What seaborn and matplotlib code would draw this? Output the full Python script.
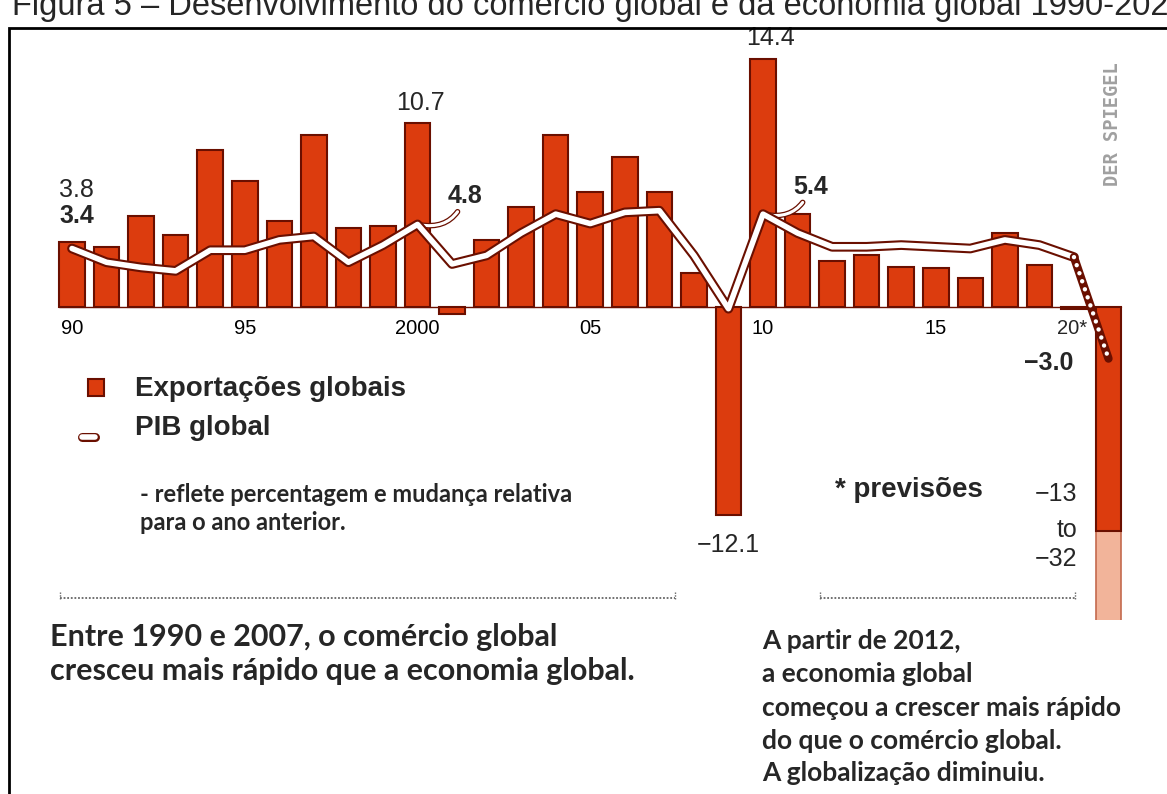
import pandas as pd
import matplotlib
matplotlib.use('Agg')
import matplotlib.pyplot as plt
import matplotlib.patheffects as pe
from matplotlib.patches import Rectangle
from matplotlib.lines import Line2D
import seaborn as sns

# data (% change on previous year)
years = list(range(1990, 2021))
exports = [3.8, 3.5, 5.3, 4.2, 9.1, 7.3, 5.0, 10.0, 4.6, 4.7,
           10.7, -0.4, 3.9, 5.8, 10.0, 6.7, 8.7, 6.7, 2.0, -12.1,
           14.4, 5.4, 2.7, 3.0, 2.35, 2.25, 1.7, 4.3, 2.45, -0.1,
           -13.0]
exports_2020_low = [-32.0]
gdp = [3.4, 2.6, 2.3, 2.1, 3.3, 3.3, 3.9, 4.1, 2.6, 3.6,
       4.8, 2.5, 3.0, 4.3, 5.4, 4.85, 5.5, 5.6, 3.0, -0.1,
       5.4, 4.3, 3.5, 3.5, 3.6, 3.5, 3.4, 3.9, 3.6, 2.9,
       -3.0]
tick_years = [1990, 1995, 2000, 2005, 2010, 2015]
tick_labels = ['90', '95', '2000', '05', '10', '15']

left_text = ['Entre 1990 e 2007, o com\u00e9rcio global',
             'cresceu mais r\u00e1pido que a economia global.']
right_text = ['A partir de 2012,', 'a economia global',
              'come\u00e7ou a crescer mais r\u00e1pido',
              'do que o com\u00e9rcio global.', 'A globaliza\u00e7\u00e3o diminuiu.']

df = pd.DataFrame({'year': years, 'exports': exports, 'gdp': gdp})

bar_color = '#dc3c0e'
edge = '#6a0f00'
light = '#f2b49a'
W, H = 1167, 794


def fx(px):
    return px / W


def fy(py):
    return 1 - py / H


sns.set_style('white')
plt.rcParams['font.family'] = ['Liberation Sans', 'DejaVu Sans']

fig = plt.figure(figsize=(11.67, 7.94), dpi=100)
ax = fig.add_axes([0, fy(620), 1, 620 / H])

# bars: light forecast range first, dark bars on top
sns.barplot(x=[2020], y=exports_2020_low, native_scale=True, width=0.74,
            color=light, saturation=1, edgecolor='#c46a4e', linewidth=1.2, ax=ax)
sns.barplot(data=df, x='year', y='exports', native_scale=True, width=0.74,
            color=bar_color, saturation=1, edgecolor=edge, linewidth=1.5, ax=ax)

ax.plot([years[0] - 0.37, years[-1] + 0.37], [0, 0], color=edge, lw=1, zorder=0.5)

# GDP line (white with dark outline), forecast dotted
outline = [pe.Stroke(linewidth=7, foreground=edge), pe.Normal()]
sns.lineplot(data=df[df.year <= 2019], x='year', y='gdp', color='white', lw=4,
             path_effects=outline, ax=ax, zorder=5)
sns.lineplot(data=df[df.year >= 2019], x='year', y='gdp', color=edge, lw=6,
             ax=ax, zorder=5)
sns.lineplot(data=df[df.year >= 2019], x='year', y='gdp', color='white', lw=3.2,
             linestyle=(0, (0.01, 1.9)), dash_capstyle='round', ax=ax, zorder=6)

ax.set_xlim(1990 - 72 / 34.55, 1990 + (W - 72) / 34.55)
ax.set_ylim(-313 / 17.2, 307 / 17.2)
ax.axis('off')

# x labels under the zero line
for yr, lbl in zip(tick_years, tick_labels):
    ax.annotate(lbl, (yr, 0), xytext=(0, -21), textcoords='offset pixels',
                ha='center', va='center', fontsize=14.5, color='black')
ax.annotate('20*', (2020, 0), xytext=(-21, -21), textcoords='offset pixels',
            ha='right', va='center', fontsize=14.5)

# value labels
big = 18
e = dict(zip(years, exports))
g = dict(zip(years, gdp))
ax.annotate('3.8', (1990 - 0.37, e[1990]), xytext=(0, 52), textcoords='offset pixels',
            ha='left', va='center', fontsize=big)
ax.annotate('3.4', (1990 - 0.37, g[1990]), xytext=(0, 33), textcoords='offset pixels',
            ha='left', va='center', fontsize=big, fontweight='bold')
ax.annotate('10.7', (2000, e[2000]), xytext=(3, 20), textcoords='offset pixels',
            ha='center', va='center', fontsize=big)
ax.annotate('14.4', (2010, e[2010]), xytext=(8, 21), textcoords='offset pixels',
            ha='center', va='center', fontsize=big)
ax.annotate('\u221212.1', (2009, e[2009]), xytext=(0, -30), textcoords='offset pixels',
            ha='center', va='center', fontsize=big)
ax.annotate('\u22123.0', (2020, g[2020]), xytext=(-35, -4), textcoords='offset pixels',
            ha='right', va='center', fontsize=big, fontweight='bold')

leader = dict(arrowstyle='-', color='white', lw=2.2, shrinkA=0, shrinkB=2,
              connectionstyle='arc3,rad=-0.45',
              path_effects=[pe.Stroke(linewidth=4, foreground=edge), pe.Normal()])
ax.annotate('4.8', (2000, g[2000]), xytext=(30, 28), textcoords='offset pixels',
            ha='left', va='center', fontsize=big, fontweight='bold', arrowprops=leader)
ax.annotate('5.4', (2010, g[2010]), xytext=(30, 27), textcoords='offset pixels',
            ha='left', va='center', fontsize=big, fontweight='bold', arrowprops=leader)

for txt, dy in [('\u221213', 187), ('to', 223), ('\u221232', 252)]:
    ax.annotate(txt, (2020, 0), xytext=(-31, -dy), textcoords='offset pixels',
                ha='right', va='center', fontsize=big)

# frame and (cropped) title strip
fig.add_artist(Rectangle((fx(9), -0.1), 1.2, fy(28) + 0.1, transform=fig.transFigure,
                         fill=False, lw=2, ec='black', zorder=10))
fig.text(fx(12), fy(15), 'Figura 5 \u2013 Desenvolvimento do com\u00e9rcio global e da economia global 1990-2020',
         ha='left', va='baseline', fontsize=23.5)

fig.text(fx(1113), fy(124), 'DER SPIEGEL', rotation=90, ha='center', va='center',
         fontsize=13.5, fontweight='bold', color='#a0a0a0', family='DejaVu Sans Mono')

# legend
fig.add_artist(Rectangle((fx(88), fy(396)), 16 / W, 17 / H, transform=fig.transFigure,
                         fc=bar_color, ec=edge, lw=1.5))
fig.text(fx(135), fy(389), 'Exporta\u00e7\u00f5es globais', ha='left', va='center',
         fontsize=20, fontweight='bold')
fig.add_artist(Line2D([fx(82), fx(95)], [fy(437), fy(437)], transform=fig.transFigure,
                      color='white', lw=4, solid_capstyle='round',
                      path_effects=[pe.Stroke(linewidth=6.5, foreground=edge, capstyle='round'), pe.Normal()]))
fig.text(fx(135), fy(428), 'PIB global', ha='left', va='center', fontsize=20, fontweight='bold')

fig.text(fx(140), fy(494), '- reflete percentagem e mudan\u00e7a relativa', ha='left', va='center',
         fontsize=17, family='Lato', fontweight='bold')
fig.text(fx(140), fy(522), 'para o ano anterior.', ha='left', va='center',
         fontsize=17, family='Lato', fontweight='bold')
fig.text(fx(835), fy(490), '* previs\u00f5es', ha='left', va='center', fontsize=20, fontweight='bold')

# dotted brackets
for x0, x1 in [(60, 675), (820, 1075)]:
    fig.add_artist(Line2D([fx(x0), fx(x1)], [fy(598), fy(598)], transform=fig.transFigure,
                          color='#666666', lw=1.3, linestyle=(0, (1, 1))))
    for xe in (x0, x1):
        fig.add_artist(Line2D([fx(xe), fx(xe)], [fy(592), fy(599)], transform=fig.transFigure,
                              color='#666666', lw=1.0, linestyle=(0, (1, 1))))

for line, py in zip(left_text, [637, 671]):
    fig.text(fx(50), fy(py), line, ha='left', va='center', fontsize=22,
             family='Lato', fontweight='bold')
for line, py in zip(right_text, [641, 674, 708, 741, 773]):
    fig.text(fx(762), fy(py), line, ha='left', va='center', fontsize=19,
             family='Lato', fontweight='bold')

fig.savefig('out.png', dpi=100, facecolor='white')
